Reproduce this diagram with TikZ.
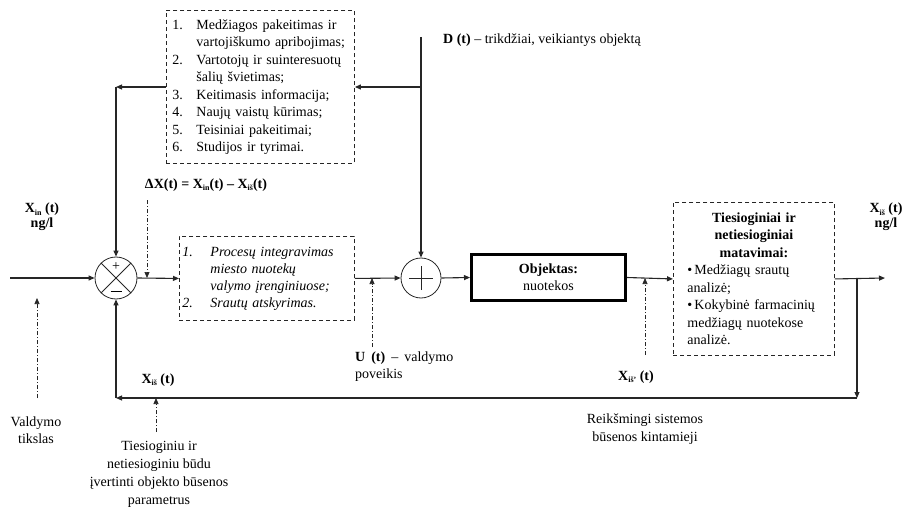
\documentclass[tikz,border=0pt]{standalone}
\usepackage{fontspec}
\setmainfont{Liberation Serif}
\usetikzlibrary{arrows.meta}

\newcommand\numlabel[2]{\makebox[#1][l]{#2}}
\newcommand\sub[1]{\raisebox{-2.5pt}{\fontsize{8}{8}\selectfont #1}}

\begin{document}
\begin{tikzpicture}[x=1pt,y=-1pt,
  font=\fontsize{14}{17.5}\selectfont,
  line/.style={line width=1.1pt, draw=black!85},
  arr/.style={line, -{Triangle[length=6pt,width=5pt]}},
  hint/.style={line width=0.7pt, draw=black!85,
    dash pattern=on 4pt off 2pt on 1pt off 2pt,
    -{Triangle[length=6pt,width=5pt]}},
  dbox/.style={draw=black!85, line width=0.9pt, dash pattern=on 4pt off 3pt,
    inner ysep=0pt, anchor=north west},
  junction/.style={circle, draw=black!85, line width=0.8pt, inner sep=0pt},
  lbl/.style={inner sep=0pt, align=center},
  boldlbl/.style={lbl, font=\fontsize{14}{15}\selectfont\bfseries},
]
\path[use as bounding box] (0,0) rectangle (908,508);

% ---- blocks ----
\node[dbox, minimum width=188pt, minimum height=153pt, inner xsep=6pt,
      text width=176pt, align=left] (list) at (166,10)
 {\numlabel{24pt}{1.}Medžiagos pakeitimas ir\\
  \hspace*{24pt}vartojiškumo apribojimas;\\
  \numlabel{24pt}{2.}Vartotojų ir suinteresuotų\\
  \hspace*{24pt}šalių švietimas;\\
  \numlabel{24pt}{3.}Keitimasis informacija;\\
  \numlabel{24pt}{4.}Naujų vaistų kūrimas;\\
  \numlabel{24pt}{5.}Teisiniai pakeitimai;\\
  \numlabel{24pt}{6.}Studijos ir tyrimai.};

\node[dbox, minimum width=175pt, minimum height=84pt, inner xsep=3pt,
      text width=169pt, align=left, font=\fontsize{14}{17}\selectfont\itshape] (proc) at (179,236)
 {\numlabel{28pt}{1.}Procesų integravimas\\
  \hspace*{28pt}miesto nuotekų\\
  \hspace*{28pt}valymo įrenginiuose;\\
  \numlabel{28pt}{2.}Srautų atskyrimas.};

\node[draw=black, line width=3pt, minimum width=154pt, minimum height=46pt,
      align=center, inner sep=0pt, font=\fontsize{14}{17}\selectfont] (obj) at (548.5,277.5)
 {\textbf{Objektas:}\\nuotekos};

\node[dbox, minimum width=161pt, minimum height=153pt, inner xsep=14pt,
      text width=133pt] (meas) at (673,202)
 {{\centering\bfseries Tiesioginiai ir\\ netiesioginiai\\ matavimai:\par}
  \raggedright
  \hangindent=7pt\hangafter=1\numlabel{7pt}{•}Medžiagų srautų\\analizė;\par
  \hangindent=7pt\hangafter=1\numlabel{7pt}{•}Kokybinė farmacinių\\medžiagų nuotekose\\analizė.\par};

% ---- junctions ----
\node[junction, minimum size=42pt] (cmp) at (116,278) {};
\draw[line width=0.8pt, draw=black!85] (cmp.north west) -- (cmp.south east)
  (cmp.north east) -- (cmp.south west);
\node[inner sep=0pt] (cmpplus) at (116,267) {+};
\node[inner sep=0pt] (cmpminus) at (116,291) {\rule{11pt}{0.8pt}};

\node[junction, minimum size=40pt] (sum) at (421,278) {};
\draw[line width=0.8pt, draw=black!85] ([xshift=-12pt]sum.center) -- ([xshift=12pt]sum.center)
  ([yshift=-12pt]sum.center) -- ([yshift=12pt]sum.center);

% ---- free ends and corners ----
\coordinate (in) at (10,278);
\coordinate (out) at (885,278);
\coordinate (tap) at (857,278);
\coordinate (br) at (857,398);
\coordinate (bl) at (116,398);
\coordinate (tl) at (116,87);
\coordinate (dtop) at (421,37);
\coordinate (dmid) at (421,87);

% ---- signal flow ----
\draw[arr] (in) -- (cmp.west);
\draw[arr] (cmp.east) -- (proc.west);
\draw[arr] (proc.east) -- (sum.west);
\draw[arr] (sum.east) -- (obj.west);
\draw[arr] (obj.east) -- (meas.west);
\draw[arr] (meas.east) -- (out);
\draw[arr] (tap) -- (br);
\draw[arr] (br) -- (bl);
\draw[arr] (bl) -- (cmp.south);
\draw[arr] (dtop) -- (sum.north);
\draw[arr] (dmid) -- (list.east |- dmid);
\draw[arr] (list.west |- tl) -- (tl);
\draw[arr] (tl) -- (cmp.north);

% ---- labels ----
\node[boldlbl] (xin) at (42,217) {X\sub{in} (t)\\ng/l};
\node[boldlbl] (xout) at (886,217) {X\sub{iš} (t)\\ng/l};
\node[boldlbl] (dx) at (206,185) {ΔX(t) = X\sub{in}(t) – X\sub{iš}(t)};
\node[lbl, anchor=west] (dlab) at (443,40) {\textbf{D (t)} – trikdžiai, veikiantys objektą};
\node[lbl, anchor=north west, align=left, font=\fontsize{14}{16.5}\selectfont] (ulab) at (355,352)
  {\textbf{U}\hspace{6pt}\textbf{(t)}\hspace{6pt}–\hspace{6pt}valdymo\\poveikis};
\node[boldlbl] (xm) at (636,377) {X\sub{iš'} (t)};
\node[boldlbl] (xfb) at (158,380) {X\sub{iš} (t)};
\node[lbl] (goal) at (36,430) {Valdymo\\tikslas};
\node[lbl, font=\fontsize{14}{18}\selectfont] (est) at (159,474)
  {Tiesioginiu ir\\netiesioginiu būdu\\įvertinti objekto būsenos\\parametrus};
\node[lbl] (state) at (645,429) {Reikšmingi sistemos\\būsenos kintamieji};

% ---- pointers ----
\draw[hint] (147,200) -- (147,278);
\draw[hint] (37,398) -- (37,298);
\draw[hint] (372,347) -- (372,278);
\draw[hint] (645,355) -- (645,278);
\draw[hint] (156,432) -- (156,398);
\end{tikzpicture}
\end{document}
